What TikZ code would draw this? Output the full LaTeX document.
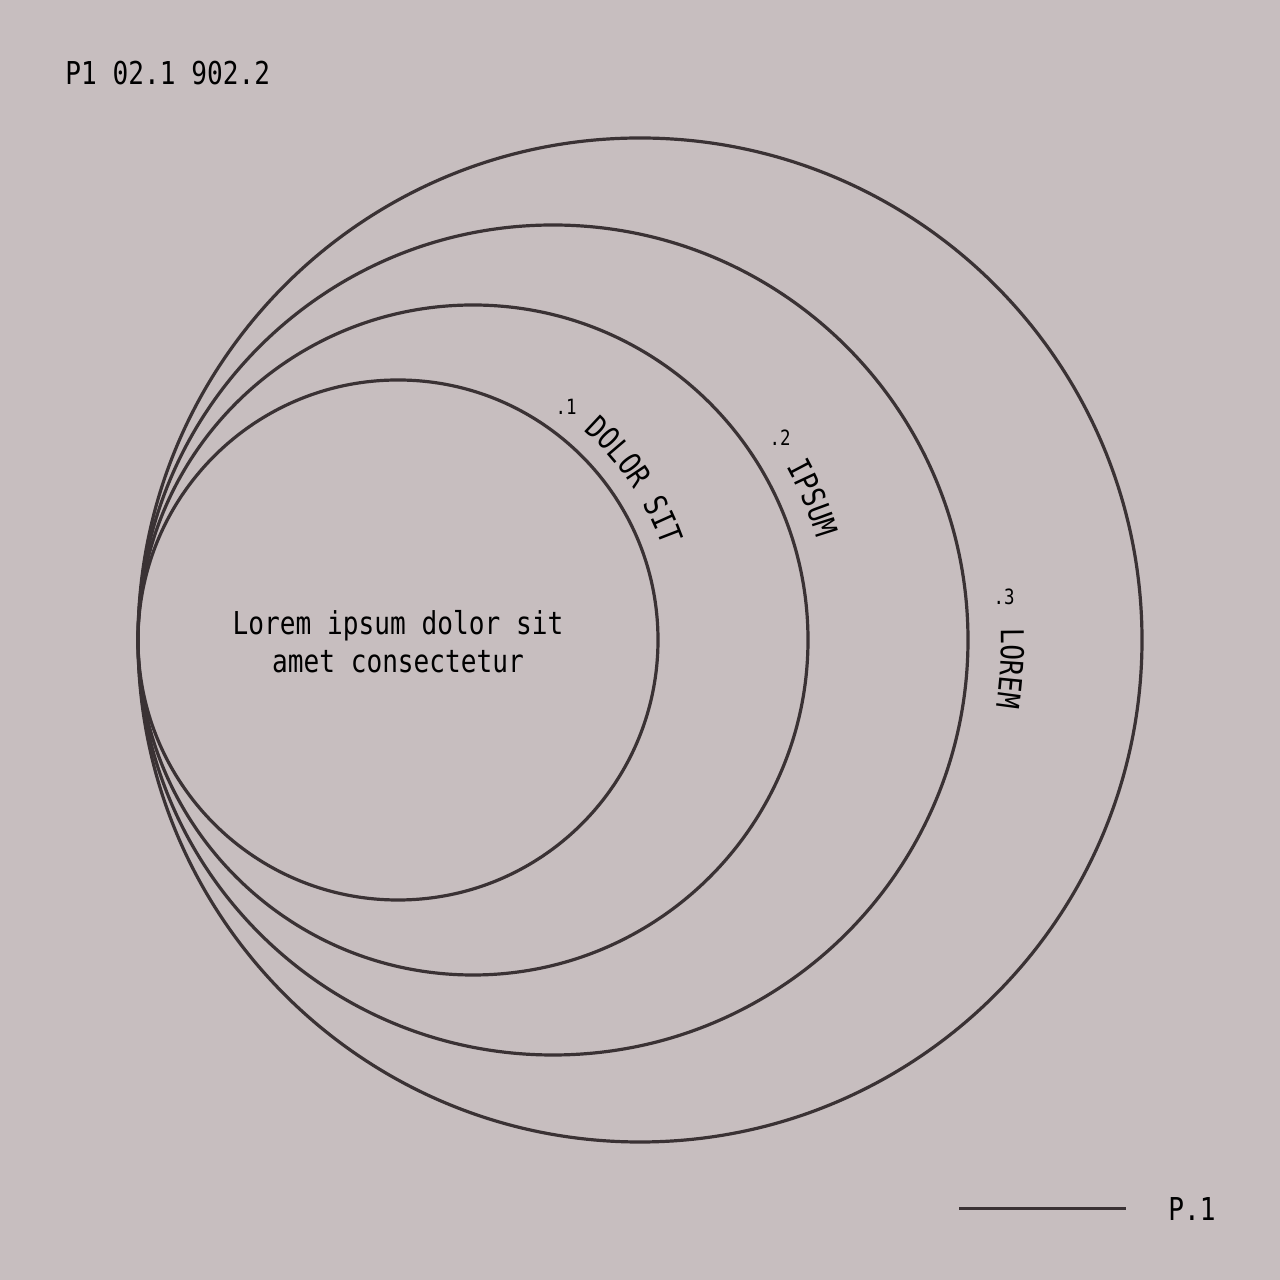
\documentclass[tikz,border=0pt]{standalone}
\usepackage{fontspec}
\usetikzlibrary{decorations.text,calc}
\newfontfamily\monofont{DejaVu Sans Mono}[FakeStretch=0.83]
\definecolor{paper}{HTML}{C7BEBF}
\definecolor{ink}{HTML}{3A3234}
\tikzstyle{ring} = [draw=ink, line width=1.6pt]
\tikzstyle{plain} = [font=\monofont\fontsize{15.75pt}{19pt}\selectfont, text=black, inner sep=0pt]
\tikzstyle{tag} = [font=\monofont\fontsize{10.5pt}{12pt}\selectfont, text=black, inner sep=0pt]
\tikzstyle{arctext} = [decorate, decoration={text along path, text align=left}]

\begin{document}
\begin{tikzpicture}[x=0.5pt, y=0.5pt]
                \fill[paper] (0,0) rectangle (1280,1280);
                \useasboundingbox (0,0) rectangle (1280,1280);
                \coordinate (c1) at (398,640);
                \coordinate (c2) at (473,640);
                \coordinate (c3) at (553,640);
                \coordinate (c4) at (640,640);
                \draw[ring] (c1) circle[radius=260];
                \draw[ring] (c2) circle[radius=335];
                \draw[ring] (c3) circle[radius=415];
                \draw[ring] (c4) circle[radius=502];
                \path[arctext, decoration={text={|\monofont\fontsize{15.75pt}{19pt}\selectfont|DOLOR SIT}}]
                    ($(c1)+(48.5:280)$) arc[start angle=48.5, end angle=0, radius=280];
                \path[arctext, decoration={text={|\monofont\fontsize{15.75pt}{19pt}\selectfont|IPSUM}}]
                    ($(c2)+(29:358)$) arc[start angle=29, end angle=0, radius=358];
                \path[arctext, decoration={text={|\monofont\fontsize{15.75pt}{19pt}\selectfont|LOREM}}]
                    ($(c3)+(1.5:448)$) arc[start angle=1.5, end angle=-30, radius=448];
                \node[tag] (n1) at (566,873) {.1};
                \node[tag] (n2) at (780,842) {.2};
                \node[tag] (n3) at (1004,683) {.3};
                \node[plain, align=center] (body) at (398,638) {Lorem ipsum dolor sit\\amet consectetur};
                \node[plain, anchor=base west] (code) at (65,1195) {P1 02.1 902.2};
                \node[plain, anchor=base west] (page) at (1168,59) {P.1};
                \coordinate (rule) at (959,71);
                \draw[ink, line width=1.5pt] (rule) -- ++(167,0);
            \end{tikzpicture}
\end{document}
